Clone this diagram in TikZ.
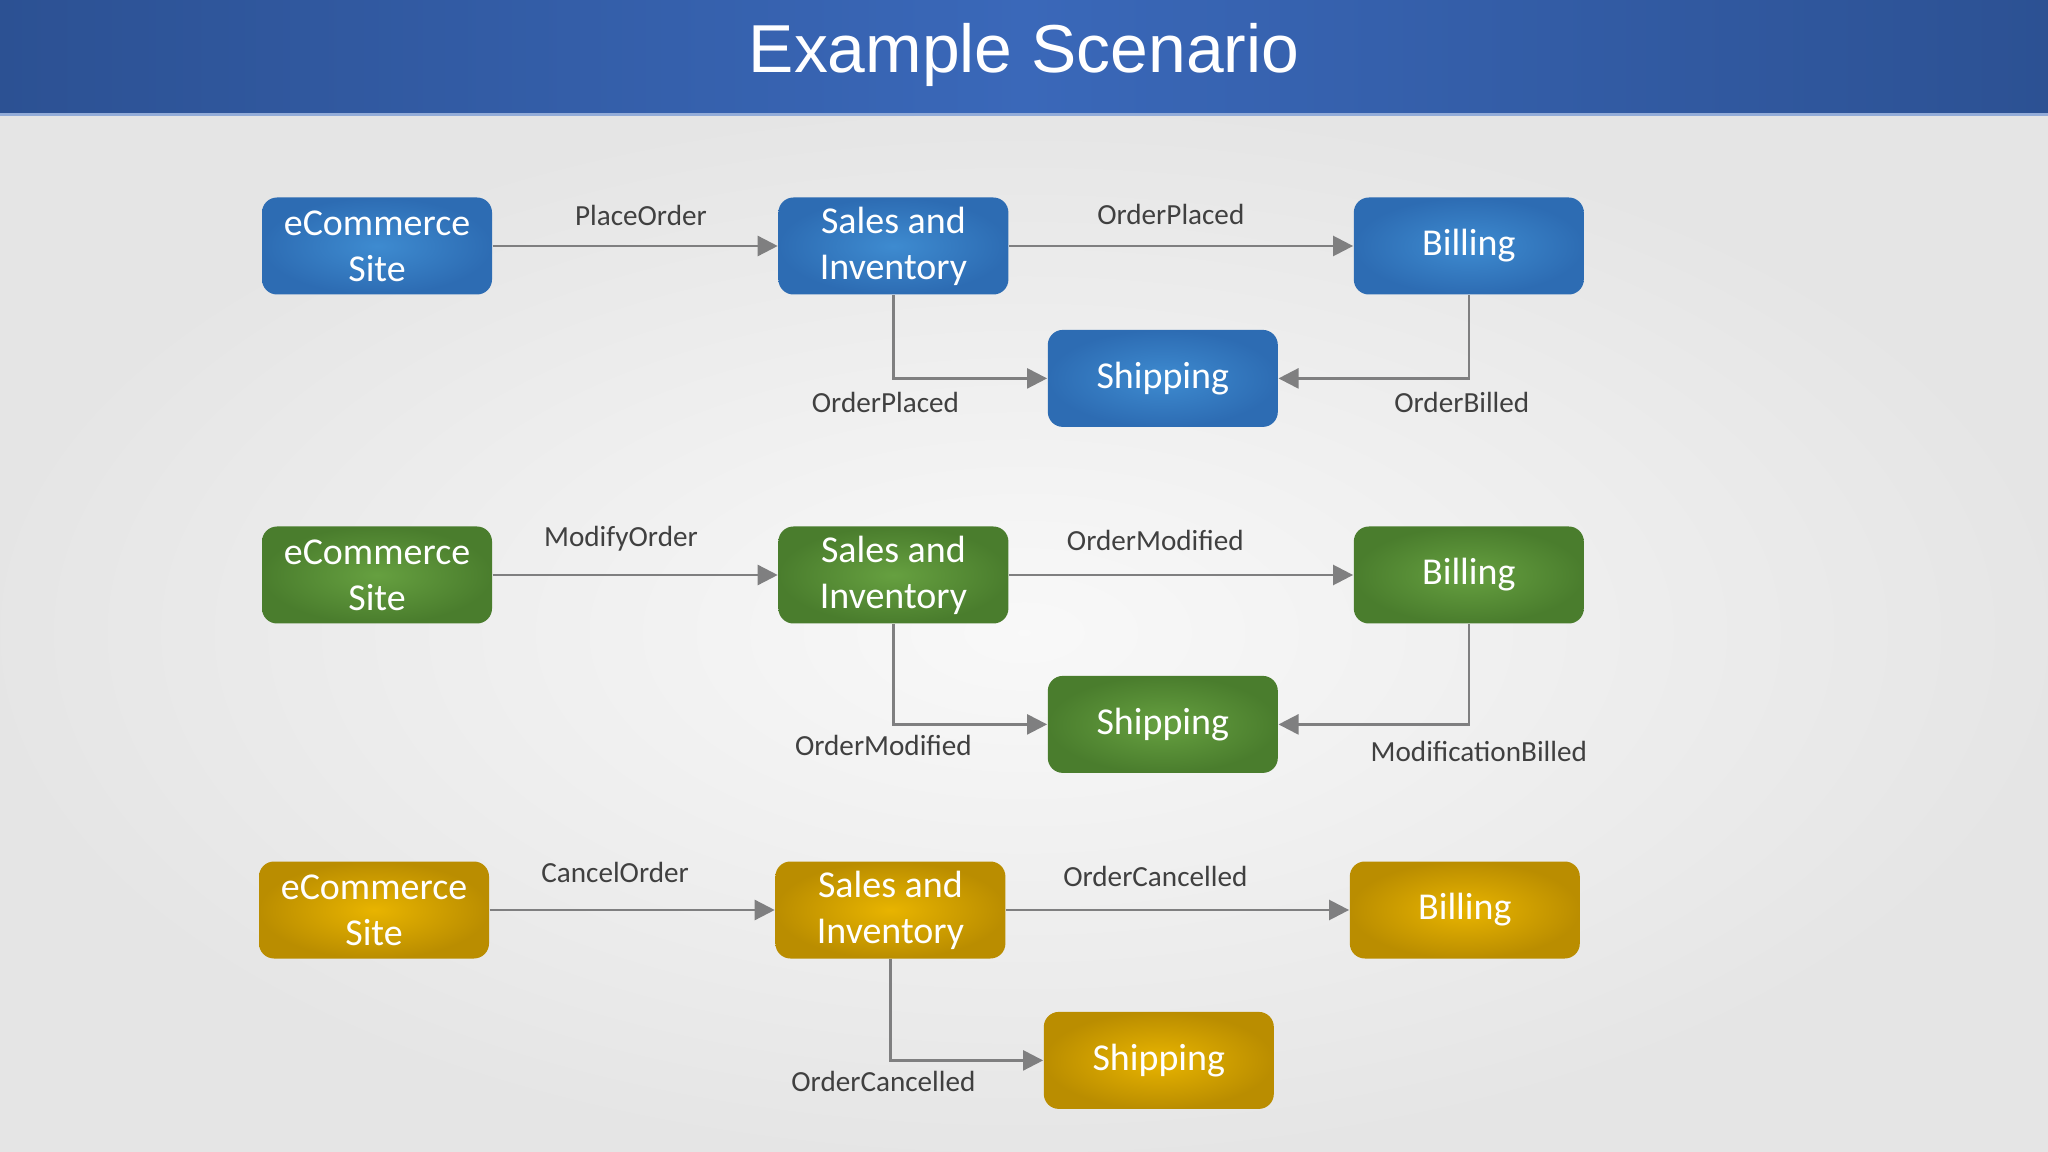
\documentclass[tikz,border=0pt]{standalone}
\usepackage{fontspec}
\setmainfont{Carlito}
\newfontfamily\titlefont{Liberation Sans}
\usepackage{tikz}
\usetikzlibrary{arrows.meta,positioning}

\definecolor{bluein}{HTML}{3E8BD0}
\definecolor{blueout}{HTML}{2D6CB3}
\definecolor{greenin}{HTML}{66A040}
\definecolor{greenout}{HTML}{4A7D2D}
\definecolor{goldin}{HTML}{E8B400}
\definecolor{goldout}{HTML}{BA8D00}
\definecolor{barside}{HTML}{2C5193}
\definecolor{barmid}{HTML}{3A68B9}
\definecolor{linkgray}{HTML}{7F7F80}
\definecolor{labelgray}{HTML}{404040}

\tikzset{
  svc/.style={rounded corners=1.5mm, minimum width=23mm, minimum height=9.7mm,
    text=white, align=center, inner sep=0pt,
    font=\fontsize{10.8pt}{13.1pt}\selectfont},
  bluesvc/.style={svc, inner color=bluein, outer color=blueout},
  greensvc/.style={svc, inner color=greenin, outer color=greenout},
  goldsvc/.style={svc, inner color=goldin, outer color=goldout},
  msg/.style={font=\fontsize{8.3pt}{10pt}\selectfont, text=labelgray,
    text height=1.8mm, text depth=0pt, inner sep=0pt},
  link/.style={draw=linkgray, line width=0.7pt,
    -{Triangle[length=2mm, width=2mm]}, color=linkgray}
}

\begin{document}
\begin{tikzpicture}[x=1cm, y=1cm, node distance=9mm]
\useasboundingbox (0,0) rectangle (20.48,-11.52);
% background and title bar
\shade[inner color=gray!5, outer color=gray!20] (0,-1.13) rectangle (20.48,-11.52);
\shade[left color=barside, right color=barside, middle color=barmid]
  (0,0) rectangle (20.48,-1.13);
\fill[barmid!55!white] (0,-1.13) rectangle (20.48,-1.16);
\node[anchor=base, text=white, font=\titlefont\fontsize{19.3pt}{22pt}\selectfont] (title) at (10.24,-0.73) {Example Scenario};

% place order
\node[bluesvc] (shop1) at (3.77,-2.46) {eCommerce\\Site};
\node[bluesvc, right=28.5mm of shop1] (sales1) {Sales and\\Inventory};
\node[bluesvc, right=34.4mm of sales1] (bill1) {Billing};
\node[bluesvc, below right=3.4mm and 3.8mm of sales1] (ship1) {Shipping};
\draw[link] (shop1) -- node[msg, pos=0.52, above=1.9mm] {PlaceOrder} (sales1);
\draw[link] (sales1) -- node[msg, pos=0.47, above=2mm] {OrderPlaced} (sales1 -| bill1.west);
\draw[link] (sales1) |- node[msg, pos=0.5, below=1.5mm, xshift=-0.8mm] {OrderPlaced} (ship1);
\draw[link] (bill1) |- node[msg, pos=0.5, below=1.5mm, xshift=-0.7mm] {OrderBilled} (ship1);

% modify order
\node[greensvc] (shop2) at (3.77,-5.75) {eCommerce\\Site};
\node[greensvc, right=28.5mm of shop2] (sales2) {Sales and\\Inventory};
\node[greensvc, right=34.4mm of sales2] (bill2) {Billing};
\node[greensvc, below right=5.1mm and 3.8mm of sales2] (ship2) {Shipping};
\draw[link] (shop2) -- node[msg, pos=0.45, above=2.7mm] {ModifyOrder} (sales2);
\draw[link] (sales2) -- node[msg, pos=0.425, above=2.3mm] {OrderModified} (sales2 -| bill2.west);
\draw[link] (sales2) |- node[msg, pos=0.5, below=1.2mm, xshift=-1mm] {OrderModified} (ship2);
\draw[link] (bill2) |- node[msg, pos=0.5, below=1.8mm, xshift=1mm] {ModificationBilled} (ship2);

% cancel order
\node[goldsvc] (shop3) at (3.74,-9.10) {eCommerce\\Site};
\node[goldsvc, right=28.5mm of shop3] (sales3) {Sales and\\Inventory};
\node[goldsvc, right=34.3mm of sales3] (bill3) {Billing};
\node[goldsvc, below right=5.2mm and 3.7mm of sales3] (ship3) {Shipping};
\draw[link] (shop3) -- node[msg, pos=0.44, above=2.6mm] {CancelOrder} (sales3);
\draw[link] (sales3) -- node[msg, pos=0.435, above=2.2mm] {OrderCancelled} (sales3 -| bill3.west);
\draw[link] (sales3) |- node[msg, pos=0.5, below=1.2mm, xshift=-0.7mm] {OrderCancelled} (ship3);
\end{tikzpicture}
\end{document}
